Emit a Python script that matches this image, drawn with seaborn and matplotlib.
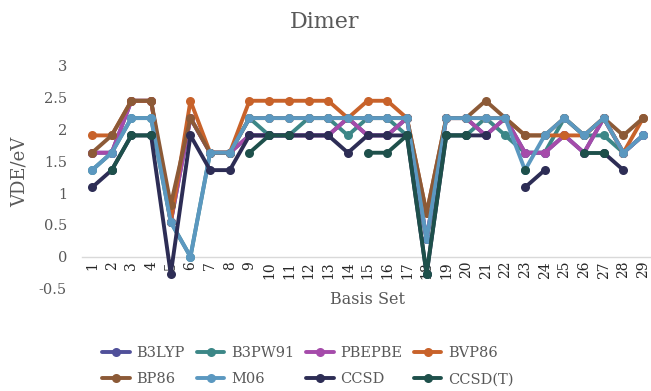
import numpy as np
import pandas as pd
import matplotlib
matplotlib.use("Agg")
import matplotlib.pyplot as plt
from matplotlib.lines import Line2D
import seaborn as sns

nan = np.nan
basis = list(range(1, 30))
methods = ["B3LYP", "B3PW91", "PBEPBE", "BVP86", "BP86", "M06", "CCSD", "CCSD(T)"]

B3LYP = [1.633, 1.633, 2.449, 2.449, 0.544, 2.177, 1.633, 1.633, 1.905, 1.905,
         1.905, 1.905, 1.905, 2.177, 1.905, 1.905, 2.177, 0.272, 2.177, 2.177,
         1.905, 2.177, 1.633, 1.633, 1.905, 1.633, 2.177, 1.633, 1.905]
B3PW91 = [1.360, 1.633, 2.177, 2.177, 0.544, 0.000, 1.633, 1.633, 2.177, 1.905,
          1.905, 2.177, 2.177, 1.905, 2.177, 2.177, 1.905, 0.272, 1.905, 1.905,
          2.177, 1.905, 1.633, 1.633, 2.177, 1.905, 1.905, 1.633, 1.905]
PBEPBE = [1.633, 1.633, 2.449, 2.449, 0.544, 2.177, 1.633, 1.633, 1.905, 1.905,
          1.905, 1.905, 1.905, 2.177, 1.905, 1.905, 2.177, 0.272, 2.177, 2.177,
          1.905, 2.177, 1.633, 1.633, 1.905, 1.633, 2.177, 1.633, 1.905]
BVP86 = [1.905, 1.905, 2.449, 2.449, 0.544, 2.449, 1.633, 1.633, 2.449, 2.449,
         2.449, 2.449, 2.449, 2.177, 2.449, 2.449, 2.177, 0.68, 2.177, 2.177,
         2.177, 2.177, 1.905, 1.905, 1.905, 1.905, 2.177, 1.633, 2.177]
BP86 = [1.633, 1.905, 2.449, 2.449, 0.816, 2.177, 1.633, 1.633, 2.177, 2.177,
        2.177, 2.177, 2.177, 2.177, 2.177, 2.177, 2.177, 0.68, 2.177, 2.177,
        2.449, 2.177, 1.905, 1.905, 2.177, 1.905, 2.177, 1.905, 2.177]
M06 = [1.360, 1.633, 2.177, 2.177, 0.544, 0.000, 1.633, 1.633, 2.177, 2.177,
       2.177, 2.177, 2.177, 2.177, 2.177, 2.177, 2.177, 0.272, 2.177, 2.177,
       2.177, 2.177, 1.360, 1.905, 2.177, 1.905, 2.177, 1.633, 1.905]
CCSD = [1.088, 1.360, 1.905, 1.905, -0.272, 1.905, 1.360, 1.360, 1.905, 1.905,
        1.905, 1.905, 1.905, 1.633, 1.905, 1.905, 1.905, -0.272, 1.905, 1.905,
        1.905, nan, 1.088, 1.360, nan, nan, 1.633, 1.360, nan]
CCSD_T = [nan, 1.360, 1.905, 1.905, nan, nan, nan, nan, 1.633, 1.905,
          1.905, nan, nan, nan, 1.633, 1.633, 1.905, -0.272, 1.905, 1.905,
          nan, nan, 1.360, nan, nan, 1.633, 1.633, nan, nan]

series = [B3LYP, B3PW91, PBEPBE, BVP86, BP86, M06, CCSD, CCSD_T]
colors = ["#50509A", "#3C8787", "#A54BAA", "#C8622A", "#8C5A37",
          "#5B98C0", "#2D2D55", "#1E504B"]
palette = dict(zip(methods, colors))

rows = []
for m, vals in zip(methods, series):
    seg = 0
    prev_nan = True
    for b, v in zip(basis, vals):
        if np.isnan(v):
            prev_nan = True
            continue
        if prev_nan:
            seg += 1
            prev_nan = False
        rows.append({"basis": b, "vde": v, "method": m, "seg": f"{m}_{seg}"})
df = pd.DataFrame(rows)

sns.set_style("white")
plt.rcParams["font.family"] = ["DejaVu Serif"]
gray = "#595959"

fig = plt.figure(figsize=(6.51, 3.91), dpi=100)
ax = fig.add_axes([82.2 / 651, 0.262, (651 - 82.2) / 651, 0.570])

sns.lineplot(data=df, x="basis", y="vde", hue="method", units="seg",
             estimator=None, hue_order=methods, palette=palette,
             marker="o", markersize=6.5, markeredgewidth=0, linewidth=2.8,
             sort=True, legend=False, ax=ax)

ax.set_xlim(0.5, 0.5 + (651 - 82.2) / 19.68)
ax.set_ylim(-0.5, 3)
yt = [-0.5, 0, 0.5, 1, 1.5, 2, 2.5, 3]
ax.set_yticks(yt)
ax.set_yticklabels(["-0.5", "0", "0.5", "1", "1.5", "2", "2.5", "3"],
                   fontsize=10.5, color=gray)
ax.set_xticks(basis)
ax.set_xticklabels([str(b) for b in basis], fontsize=10, color=gray)
ax.tick_params(axis="both", length=0)
ax.tick_params(axis="y", pad=11)
ax.tick_params(axis="x", pad=3, labelrotation=90)
for s in ["top", "right", "left"]:
    ax.spines[s].set_visible(False)
ax.spines["bottom"].set_position(("data", 0))
ax.spines["bottom"].set_color("#d9d9d9")
ax.spines["bottom"].set_linewidth(1.0)
ax.spines["bottom"].set_zorder(0)
ax.set_xlabel("")
ax.set_ylabel("")
ax.grid(False)

fig.text(325 / 651, 1 - 22 / 391, "Dimer", ha="center", va="center",
         fontsize=16, color=gray)
fig.text(367 / 651, 1 - 300 / 391, "Basis Set", ha="center", va="center",
         fontsize=11.5, color=gray)
fig.text(20 / 651, 1 - 172 / 391, "VDE/eV", ha="center", va="center",
         rotation=90, fontsize=13, color=gray)

handles = {m: Line2D([], [], color=c, marker="o", markersize=6.5, markeredgewidth=0,
                     linewidth=2.8) for m, c in zip(methods, colors)}
order = ["B3LYP", "BP86", "B3PW91", "M06", "PBEPBE", "CCSD", "BVP86", "CCSD(T)"]
leg = fig.legend([handles[m] for m in order], order, loc="center",
                 bbox_to_anchor=(308 / 651, 1 - 366 / 391), ncol=4, frameon=False,
                 fontsize=10.5, handlelength=1.9, handletextpad=0.45,
                 columnspacing=0.8, labelspacing=0.85, borderpad=0.2)
for t in leg.get_texts():
    t.set_color(gray)

fig.savefig("out.png", dpi=100)
